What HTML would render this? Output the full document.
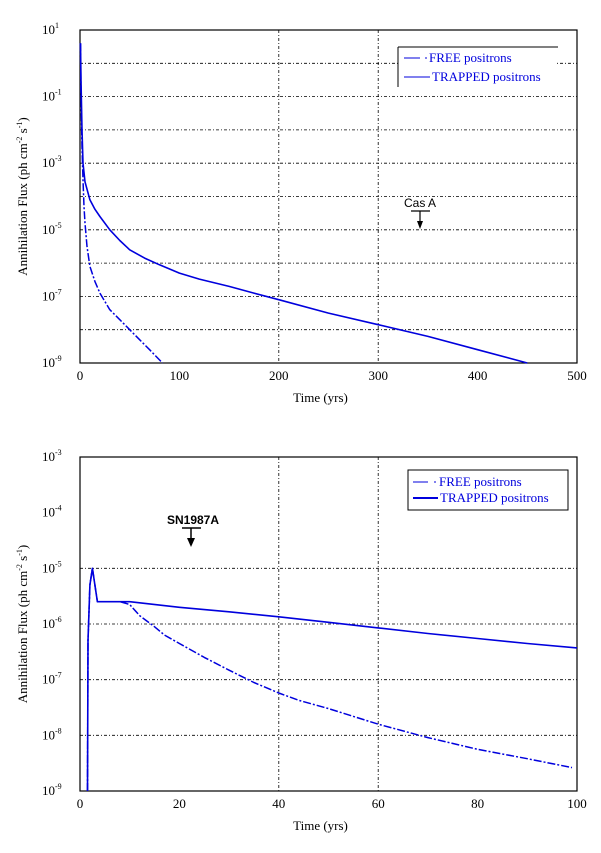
<!DOCTYPE html>
<html><head><meta charset="utf-8"><style>
body{margin:0;background:#fff;}
svg{display:block;font-family:"Liberation Serif",serif;}
</style></head><body>
<svg id="s" width="601" height="853"></svg>
<script>
const topTimes=[0.5,1,2,3,5,10,15,20,30,40,50,65,80,100,120,150,175,200,250,300,350,400,450];
const topTrapped=[0.6,-0.5,-2,-3,-3.56,-4.1,-4.38,-4.6,-5.0,-5.32,-5.6,-5.85,-6.05,-6.3,-6.48,-6.7,-6.9,-7.1,-7.5,-7.85,-8.2,-8.6,-9.0];
const topFreeTimes=[0.5,1,2,3,4,5,7,10,15,20,30,40,50,60,70,83];
const topFree=[0.6,-1,-2.5,-3.5,-4.3,-4.8,-5.5,-6.1,-6.55,-6.9,-7.4,-7.7,-8.0,-8.3,-8.6,-9.0];
const topXTicks=[0,100,200,300,400,500];
const topYTicks=[1,-1,-3,-5,-7,-9];
const botTimes=[1.5,1.6,2,2.5,3,3.5,5,10,20,30,40,50,60,70,80,90,100];
const botTrapped=[-9,-6.3,-5.3,-5.0,-5.3,-5.6,-5.6,-5.6,-5.7,-5.78,-5.87,-5.97,-6.07,-6.17,-6.26,-6.35,-6.43];
const botFreeTimes=[1.5,1.6,2,2.5,3,3.5,5,8,10,12,15,17,20,25,30,35,40,44,50,60,70,80,90,99];
const botFree=[-9,-6.3,-5.3,-5.0,-5.3,-5.6,-5.6,-5.6,-5.65,-5.85,-6.05,-6.2,-6.35,-6.6,-6.83,-7.05,-7.24,-7.37,-7.52,-7.8,-8.04,-8.25,-8.42,-8.58];
const botXTicks=[0,20,40,60,80,100];
const botYTicks=[-3,-4,-5,-6,-7,-8,-9];

const NS="http://www.w3.org/2000/svg";const S=document.getElementById('s');
function mk(t,a,p){const e=document.createElementNS(NS,t);for(const k in a)e.setAttribute(k,a[k]);(p||S).appendChild(e);return e;}
function chart(c){
  const g=mk('g',{});
  
  
  const X=v=>c.x0+(v-c.xmin)/(c.xmax-c.xmin)*(c.x1-c.x0);
  const Y=v=>c.y1-(v-c.ymin)/(c.ymax-c.ymin)*(c.y1-c.y0);
  c.hgrid.forEach(v=>{const l=mk('line',{x1:c.x0,x2:c.x1,y1:Y(v),y2:Y(v),stroke:'#000','stroke-width':0.8,'stroke-dasharray':'3,2,1,2'},g);
    });
  c.vgrid.forEach(v=>{const l=mk('line',{x1:X(v),x2:X(v),y1:c.y0,y2:c.y1,stroke:'#000','stroke-width':0.8,'stroke-dasharray':'3,2,1,2'},g);
    });
  const fr=mk('rect',{x:c.x0,y:c.y0,width:c.x1-c.x0,height:c.y1-c.y0,fill:'none',stroke:'#000','stroke-width':1.2},g);
  
  c.xt.forEach(v=>{const t=mk('text',{x:X(v),y:c.y1+17,'text-anchor':'middle','font-size':13},g);t.textContent=v;
    });
  c.yt.forEach(v=>{const t=mk('text',{x:c.x0-38,y:Y(v)+4,'font-size':13},g);t.textContent='10';
    const s=mk('tspan',{dy:-6,'font-size':8},t);s.textContent=String(v);
    });
  const xl=mk('text',{x:(c.x0+c.x1)/2-8,y:c.y1+39,'text-anchor':'middle','font-size':13},g);xl.textContent='Time (yrs)';
  
  const cy=(c.y0+c.y1)/2;
  const yl=mk('text',{x:0,y:0,'text-anchor':'middle','font-size':13,transform:`translate(27,${cy}) rotate(-90)`},g);
  yl.textContent='Annihilation Flux (ph cm';
  let a=mk('tspan',{dy:-5,'font-size':8},yl);a.textContent='-2';
  a=mk('tspan',{dy:5},yl);a.textContent=' s';
  a=mk('tspan',{dy:-5,'font-size':8},yl);a.textContent='-1';
  a=mk('tspan',{dy:5},yl);a.textContent=')';
  
  const line=(ts,vs,dash,w,name)=>{const d=ts.map((t,i)=>(i?'L':'M')+X(t).toFixed(1)+','+Y(vs[i]).toFixed(1)).join('');
    const p=mk('path',{d:d,fill:'none',stroke:'#0000dd','stroke-width':w,'stroke-dasharray':dash,'stroke-linejoin':'round'},g);
    };
  line(c.ft,c.fv,'8,2,2,2',1.5,'free-positrons-line');
  line(c.tt,c.tv,'none',1.6,'trapped-positrons-line');
  return g;
}
chart({name:'top-chart',x0:80,x1:577,y0:30,y1:363,xmin:0,xmax:500,ymin:-9,ymax:1,
  hgrid:[0,-1,-2,-3,-4,-5,-6,-7,-8],vgrid:[200,300],xt:topXTicks,yt:topYTicks,
  tt:topTimes,tv:topTrapped,ft:topFreeTimes,fv:topFree});
chart({name:'bottom-chart',x0:80,x1:577,y0:457,y1:791,xmin:0,xmax:100,ymin:-9,ymax:-3,
  hgrid:[-5,-6,-7,-8],vgrid:[40,60],xt:botXTicks,yt:botYTicks,
  tt:botTimes,tv:botTrapped,ft:botFreeTimes,fv:botFree});
</script>
<svg width="601" height="853" style="position:absolute;left:0;top:0;font-family:'Liberation Serif',serif">
<g>
<rect x="399" y="47" width="158" height="40" fill="#fff"/>
<line x1="398" y1="47" x2="558" y2="47" stroke="#000"/>
<line x1="398" y1="47" x2="398" y2="87" stroke="#000"/>
<line x1="404" y1="58" x2="420" y2="58" stroke="#0000dd"/><line x1="425" y1="58" x2="427" y2="58" stroke="#0000dd"/>
<text x="429" y="62" font-size="13" fill="#0000dd">FREE positrons</text>
<line x1="404" y1="77" x2="430" y2="77" stroke="#0000dd"/>
<text x="432" y="81" font-size="13" fill="#0000dd">TRAPPED positrons</text>
</g>
<g>
<text x="420" y="207" font-size="12" text-anchor="middle" font-family="Liberation Sans, sans-serif">Cas A</text>
<line x1="411" y1="211" x2="430" y2="211" stroke="#000" stroke-width="1.2"/>
<line x1="420" y1="211" x2="420" y2="226" stroke="#000" stroke-width="1.2"/>
<polygon points="417,221 423,221 420,229" fill="#000"/>
</g>
<g>
<rect x="408" y="470" width="160" height="40" fill="#fff" stroke="#000"/>
<line x1="413" y1="482" x2="428" y2="482" stroke="#0000dd"/><line x1="434" y1="482" x2="436" y2="482" stroke="#0000dd"/>
<text x="439" y="486" font-size="13" fill="#0000dd">FREE positrons</text>
<line x1="413" y1="498" x2="438" y2="498" stroke="#0000dd" stroke-width="2"/>
<text x="440" y="502" font-size="13" fill="#0000dd">TRAPPED positrons</text>
</g>
<g>
<text x="193" y="524" font-size="12" font-weight="bold" text-anchor="middle" font-family="Liberation Sans, sans-serif">SN1987A</text>
<line x1="182" y1="528" x2="201" y2="528" stroke="#000" stroke-width="1.5"/>
<line x1="191" y1="528" x2="191" y2="544" stroke="#000" stroke-width="1.5"/>
<polygon points="187,538 195,538 191,547" fill="#000"/>
</g>
</svg>
</body></html>
